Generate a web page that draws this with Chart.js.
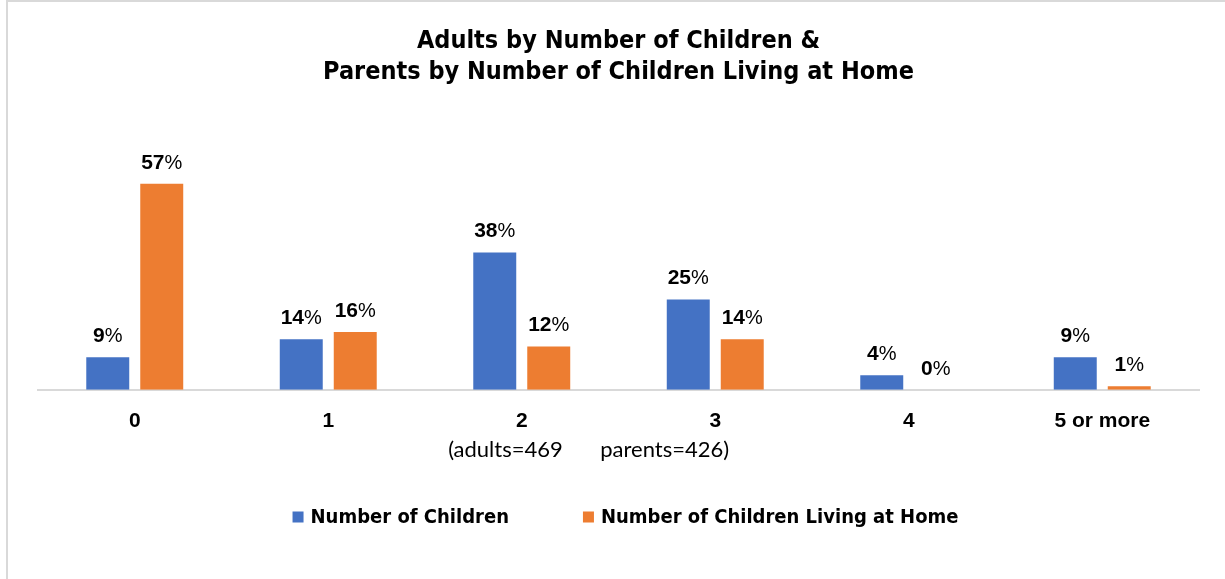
<!DOCTYPE html>
<html>
<head>
<meta charset="utf-8">
<script src="https://cdn.jsdelivr.net/npm/chart.js@4.4.1/dist/chart.umd.min.js"></script>
<style>
  html, body { margin: 0; padding: 0; background: #fff; }
  #wrap { position: relative; width: 1225px; height: 579px; }
</style>
</head>
<body>
<div id="wrap"><canvas id="c" width="1225" height="579"></canvas></div>
<script>
// Data
const categories = ["0", "1", "2", "3", "4", "5 or more"];
const childrenPct = [9, 14, 38, 25, 4, 9];
const atHomePct = [57, 16, 12, 14, 0, 1];
const seriesNames = ["Number of Children", "Number of Children Living at Home"];
const titleLines = ["Adults by Number of Children &", "Parents by Number of Children Living at Home"];
const noteLeft = "(adults=469";
const noteRight = "parents=426)";

const BLUE = "#4472c4", ORANGE = "#ed7d31";
const narrow = "'Liberation Sans Narrow', 'DejaVu Sans Condensed', sans-serif";
const arial = "'Liberation Sans', Arial, sans-serif";

// White background + light frame like the source picture
const framePlugin = {
  id: "frame",
  beforeDraw(chart) {
    const c = chart.ctx;
    c.save();
    c.fillStyle = "#fff";
    c.fillRect(0, 0, chart.width, chart.height);
    c.strokeStyle = "#d9d9d9";
    c.lineWidth = 2;
    c.beginPath();
    c.moveTo(7, chart.height);
    c.lineTo(7, 1);
    c.lineTo(chart.width, 1);
    c.stroke();
    c.restore();
  }
};

// Value labels (bold digits, regular %), the n= note and the legend
const labelPlugin = {
  id: "valueLabels",
  afterDatasetsDraw(chart) {
    const c = chart.ctx;
    c.save();
    c.fillStyle = "#000";
    c.textBaseline = "alphabetic";
    chart.data.datasets.forEach((ds, di) => {
      chart.getDatasetMeta(di).data.forEach((bar, i) => {
        const num = String(ds.data[i]);
        c.font = "bold 21px " + arial;
        const wNum = c.measureText(num).width;
        c.font = "20px " + arial;
        const wPct = c.measureText("%").width;
        const x0 = bar.x - (wNum + wPct) / 2;
        const y = bar.y - 15;
        c.font = "bold 21px " + arial;
        c.textAlign = "left";
        c.fillText(num, x0, y);
        c.font = "20px " + arial;
        c.fillText("%", x0 + wNum, y);
      });
    });

    const xs = chart.scales.x;
    c.font = "22px Lato, 'Open Sans', sans-serif";
    c.textBaseline = "middle";
    c.textAlign = "right";
    c.fillText(noteLeft, xs.getPixelForValue(2) + 41, 450);
    c.textAlign = "left";
    c.fillText(noteRight, xs.getPixelForValue(3) - 115, 450);

    // legend
    const colors = [BLUE, ORANGE];
    c.font = "bold 20px " + narrow;
    const widths = seriesNames.map(s => c.measureText(s).width);
    const box = 11, gap = 7, itemGap = 74;
    const total = widths.reduce((a, w) => a + box + gap + w, 0) + itemGap;
    let x = (chart.chartArea.left + chart.chartArea.right) / 2 + 7 - total / 2;
    const ly = 517;
    seriesNames.forEach((s, i) => {
      c.fillStyle = colors[i];
      c.fillRect(x, ly - 5.5, box, box);
      c.fillStyle = "#000";
      c.fillText(s, x + box + gap, ly + 1);
      x += box + gap + widths[i] + itemGap;
    });
    c.restore();
  }
};

new Chart(document.getElementById("c"), {
  type: "bar",
  data: {
    labels: categories,
    datasets: [
      { label: seriesNames[0], data: childrenPct, backgroundColor: BLUE },
      { label: seriesNames[1], data: atHomePct, backgroundColor: ORANGE }
    ]
  },
  options: {
    responsive: false,
    animation: false,
    events: [],
    layout: { padding: { left: 38, right: 26, top: 0, bottom: 134 } },
    datasets: { bar: { categoryPercentage: 0.558, barPercentage: 0.796 } },
    scales: {
      x: {
        grid: { display: false },
        border: { display: true, color: "#d9d9d9", width: 2 },
        ticks: { color: "#000", padding: 11, font: { family: arial, size: 21, weight: "bold" } }
      },
      y: { display: false, min: 0, max: 60 }
    },
    plugins: {
      title: {
        display: true,
        text: titleLines,
        color: "#000",
        font: { family: narrow, size: 25, weight: "bold", lineHeight: 1.25 },
        padding: { top: 26, bottom: 84.5 }
      },
      legend: { display: false },
      tooltip: { enabled: false }
    }
  },
  plugins: [framePlugin, labelPlugin]
});
</script>
</body>
</html>
